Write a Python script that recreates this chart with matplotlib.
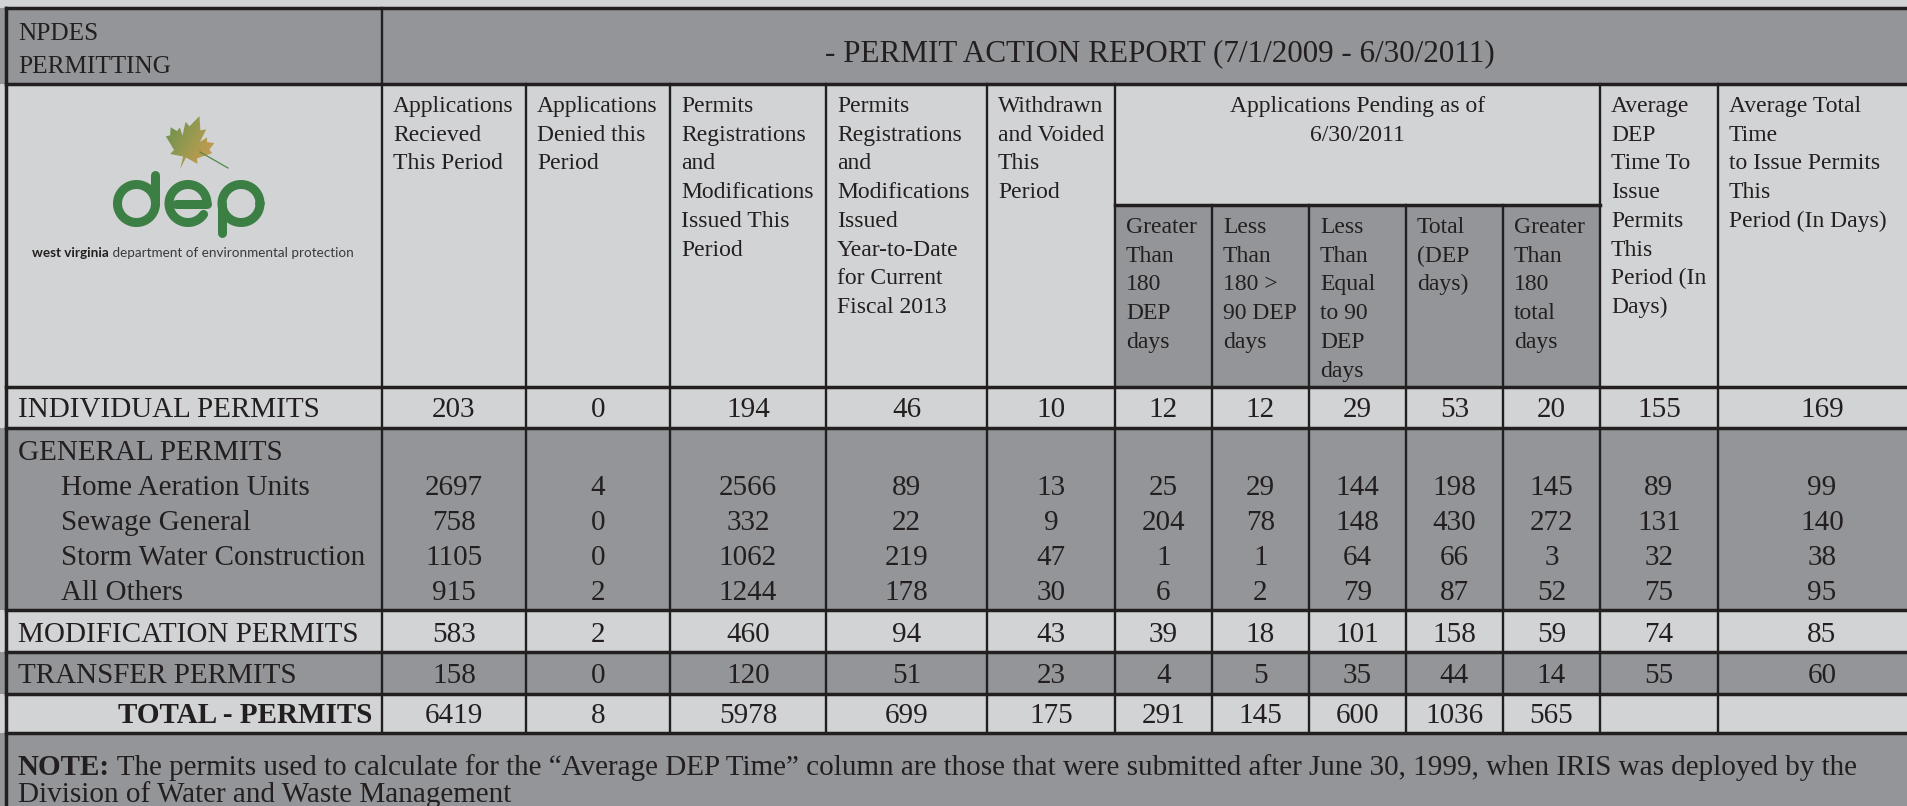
import numpy as np
import matplotlib
matplotlib.use("Agg")
import matplotlib.pyplot as plt
from matplotlib.patches import Rectangle, Polygon
from matplotlib.lines import Line2D
from matplotlib.colors import LinearSegmentedColormap

# ---------------- data ----------------
row_labels = ["INDIVIDUAL PERMITS", "Home Aeration Units", "Sewage General",
              "Storm Water Construction", "All Others", "MODIFICATION PERMITS",
              "TRANSFER PERMITS", "TOTAL - PERMITS"]
group_label = "GENERAL PERMITS"

received = [203, 2697, 758, 1105, 915, 583, 158, 6419]
denied = [0, 4, 0, 0, 2, 2, 0, 8]
issued = [194, 2566, 332, 1062, 1244, 460, 120, 5978]
issued_ytd = [46, 89, 22, 219, 178, 94, 51, 699]
withdrawn = [10, 13, 9, 47, 30, 43, 23, 175]
pend_gt180_dep = [12, 25, 204, 1, 6, 39, 4, 291]
pend_180_90_dep = [12, 29, 78, 1, 2, 18, 5, 145]
pend_le90_dep = [29, 144, 148, 64, 79, 101, 35, 600]
pend_total_dep = [53, 198, 430, 66, 87, 158, 44, 1036]
pend_gt180_total = [20, 145, 272, 3, 52, 59, 14, 565]
avg_dep_time = [155, 89, 131, 32, 75, 74, 55, None]
avg_total_time = [169, 99, 140, 38, 95, 85, 60, None]

columns = [received, denied, issued, issued_ytd, withdrawn, pend_gt180_dep,
           pend_180_90_dep, pend_le90_dep, pend_total_dep, pend_gt180_total,
           avg_dep_time, avg_total_time]

col_headers = ["Applications\nRecieved\nThis Period",
               "Applications\nDenied this\nPeriod",
               "Permits\nRegistrations\nand\nModifications\nIssued This\nPeriod",
               "Permits\nRegistrations\nand\nModifications\nIssued\nYear-to-Date\nfor Current\nFiscal 2013",
               "Withdrawn\nand Voided\nThis\nPeriod",
               "Greater\nThan\n180\nDEP\ndays",
               "Less\nThan\n180 >\n90 DEP\ndays",
               "Less\nThan\nEqual\nto 90\nDEP\ndays",
               "Total\n(DEP\ndays)",
               "Greater\nThan\n180\ntotal\ndays",
               "Average\nDEP\nTime To\nIssue\nPermits\nThis\nPeriod (In\nDays)",
               "Average Total\nTime\nto Issue Permits\nThis\nPeriod (In Days)"]
pending_header = "Applications Pending as of\n6/30/2011"
title = "- PERMIT ACTION REPORT (7/1/2009 - 6/30/2011)"
corner = "NPDES\nPERMITTING"
note_bold = "NOTE:"
note_rest = (" The permits used to calculate for the \u201cAverage DEP Time\u201d column are those "
             "that were submitted after June 30, 1999, when IRIS was deployed by the")
note_line2 = "Division of Water and Waste Management"

# ---------------- layout (pixels) ----------------
W, H = 1908, 806
LIGHT = "#d1d3d4"
DARK = "#939598"
INK = "#231f20"
GREEN = "#3c7f45"
SERIF = "Liberation Serif"

xs = [6, 382, 526, 670, 826, 987, 1115, 1212, 1309, 1406, 1503, 1600, 1718, 1926]
y_top, y_h1, y_sub, y_h2 = 8, 84, 205, 387
row_lines = [387, 428, 610, 652, 694, 733]
row_base = [417, 495, 530, 565, 600, 642, 683, 723]
group_base = 460

fig = plt.figure(figsize=(W / 100, H / 100), dpi=100)
fig.patch.set_facecolor(LIGHT)
ax = fig.add_axes([0, 0, 1, 1])
ax.set_xlim(0, W)
ax.set_ylim(H, 0)
ax.axis("off")


def rect(x0, y0, x1, y1, c):
    ax.add_patch(Rectangle((x0, y0), x1 - x0, y1 - y0, facecolor=c, edgecolor="none", zorder=0))


rect(0, 0, W, y_top, LIGHT)
rect(0, y_top, W, y_h1, DARK)
rect(0, y_h1, W, y_h2, LIGHT)
rect(xs[6], y_sub, xs[11], y_h2, DARK)
band_colors = [LIGHT, DARK, LIGHT, DARK, LIGHT]
for (a, b), c in zip(zip(row_lines[:-1], row_lines[1:]), band_colors):
    rect(0, a, W, b, c)
rect(0, row_lines[-1], W, H, DARK)

# grid lines
HLW, VLW = 2.5, 1.7
for y in [y_top, y_h1] + row_lines:
    ax.add_line(Line2D([xs[0], W], [y, y], color=INK, lw=HLW, zorder=3))
ax.add_line(Line2D([xs[6], xs[11]], [y_sub, y_sub], color=INK, lw=HLW, zorder=3))
ax.add_line(Line2D([xs[0], xs[0]], [y_top, H], color=INK, lw=HLW, zorder=3))
ax.add_line(Line2D([xs[1], xs[1]], [y_top, row_lines[-1]], color=INK, lw=VLW, zorder=3))
for i in [2, 3, 4, 5, 6, 11, 12]:
    ax.add_line(Line2D([xs[i], xs[i]], [y_h1, row_lines[-1]], color=INK, lw=VLW, zorder=3))
for i in [7, 8, 9, 10]:
    ax.add_line(Line2D([xs[i], xs[i]], [y_sub, row_lines[-1]], color=INK, lw=VLW, zorder=3))


def lines(x, y0, text, size, dy, ha="left", weight="normal"):
    for k, ln in enumerate(text.split("\n")):
        ax.text(x, y0 + k * dy, ln, ha=ha, va="baseline", fontsize=size,
                family=SERIF, color=INK, weight=weight, zorder=4)


# header texts
lines(18, 40, corner, 18.2, 33)
ax.text(1160, 61, title, ha="center", va="baseline", fontsize=22.4, family=SERIF, color=INK, zorder=4)
HS, HDY = 17.0, 28.7
for i, txt in enumerate(col_headers):
    x0 = xs[i + 1] + 11
    y0 = 112 if (i < 5 or i >= 10) else 233
    lines(x0, y0, txt, HS, HDY)
lines((xs[6] + xs[11]) / 2, 112, pending_header, HS, HDY, ha="center")

# row labels
DS = 21.0
for j, lab in enumerate(row_labels):
    if j == len(row_labels) - 1:
        ax.text(xs[1] - 10, row_base[j], lab, ha="right", va="baseline", fontsize=DS,
                family=SERIF, color=INK, weight="bold", zorder=4)
    else:
        x0 = 61 if 1 <= j <= 4 else 18
        ax.text(x0, row_base[j], lab, ha="left", va="baseline", fontsize=DS,
                family=SERIF, color=INK, zorder=4)
ax.text(18, group_base, group_label, ha="left", va="baseline", fontsize=DS,
        family=SERIF, color=INK, zorder=4)

# values
for i, col in enumerate(columns):
    xc = (xs[i + 1] + xs[i + 2]) / 2
    for j, v in enumerate(col):
        if v is None:
            continue
        ax.text(xc, row_base[j], str(v), ha="center", va="baseline", fontsize=DS,
                family=SERIF, color=INK, zorder=4)

# note
fig.canvas.draw()
r = fig.canvas.get_renderer()
tb = ax.text(18, 775, note_bold, ha="left", va="baseline", fontsize=DS, family=SERIF,
             color=INK, weight="bold", zorder=4)
bb = tb.get_window_extent(renderer=r)
ax.text(18 + bb.width, 775, note_rest, ha="left", va="baseline", fontsize=DS,
        family=SERIF, color=INK, zorder=4)
ax.text(18, 802, note_line2, ha="left", va="baseline", fontsize=DS, family=SERIF,
        color=INK, zorder=4)

# ---------------- logo ----------------
LW = 9 * 0.72


def arc(cx, cy, r, a0, a1):
    t = np.radians(np.linspace(a0, a1, 120))
    ax.add_line(Line2D(cx + r * np.cos(t), cy - r * np.sin(t), color=GREEN, lw=LW,
                       solid_capstyle="round", zorder=5))


def seg(x0, y0, x1, y1):
    ax.add_line(Line2D([x0, x1], [y0, y1], color=GREEN, lw=LW, solid_capstyle="round", zorder=5))


cy, rr = 203.5, 19
arc(136.5, cy, rr, 0, 360)
seg(155.5, 174.5, 155.5, cy)
arc(188.0, cy, rr, 0, 325)
seg(176.0, cy, 207.0, cy)
arc(241.0, cy, rr, 0, 360)
seg(222.0, cy, 222.0, 232.5)

leaf = np.array([(0, -1), (0.05, -0.55), (0.5, -0.62), (0.42, -0.45), (0.85, -0.1),
                 (0.72, -0.02), (0.8, 0.25), (0.55, 0.2), (0.5, 0.35), (0.32, 0.12),
                 (0.38, 0.6), (0.2, 0.5), (0, 0.95), (-0.2, 0.5), (-0.38, 0.6),
                 (-0.32, 0.12), (-0.5, 0.35), (-0.55, 0.2), (-0.8, 0.25), (-0.72, -0.02),
                 (-0.85, -0.1), (-0.42, -0.45), (-0.5, -0.62), (-0.05, -0.55)])
ang = np.radians(-20)
rot = np.array([[np.cos(ang), -np.sin(ang)], [np.sin(ang), np.cos(ang)]])
lp = leaf @ rot.T * 29
lp[:, 1] = -lp[:, 1]
lp += [190, 142]
poly = Polygon(lp, closed=True, facecolor="none", edgecolor="none", zorder=5)
ax.add_patch(poly)
gx = np.linspace(0, 1, 64)
grad = np.add.outer(np.linspace(0.0, 0.4, 64), gx * 0.8)
cmap = LinearSegmentedColormap.from_list("leaf", ["#4f8a4b", "#9a9a50", "#e89a4c"])
im = ax.imshow(grad, cmap=cmap, extent=(155, 225, 172, 110), zorder=5, vmin=0, vmax=1.2)
im.set_clip_path(poly)
ax.set_xlim(0, W)
ax.set_ylim(H, 0)
ax.set_aspect("auto")
ax.add_line(Line2D([200, 228], [152, 168], color="#4f8a4b", lw=0.9, zorder=5))

tw = ax.text(32, 257, "west virginia", ha="left", va="baseline", fontsize=9.7,
             family="Lato", weight="bold", color=INK, zorder=5)
bw = tw.get_window_extent(renderer=r)
ax.text(32 + bw.width, 257, " department of environmental protection", ha="left",
        va="baseline", fontsize=9.7, family="Lato", color="#3a3a3a", zorder=5)

fig.savefig("out.png", dpi=100, facecolor=fig.get_facecolor())
